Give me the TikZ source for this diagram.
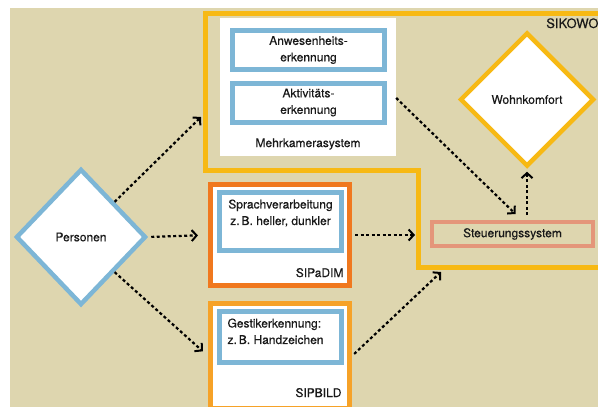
\documentclass[tikz,border=0pt]{standalone}
\usepackage{fontspec}
\setmainfont{TeX Gyre Heros}[FakeBold=0.35]
\usetikzlibrary{arrows.meta, positioning, shapes.geometric, calc}

\definecolor{sand}{RGB}{222,214,175}
\definecolor{gelb}{RGB}{247,185,20}
\definecolor{hellblau}{RGB}{125,182,214}
\definecolor{dunkelorange}{RGB}{240,120,30}
\definecolor{hellorange}{RGB}{246,162,40}
\definecolor{lachs}{RGB}{228,150,122}
\definecolor{schrift}{RGB}{25,25,25}

\begin{document}
\begin{tikzpicture}[x=1pt, y=-1pt,
    font=\fontsize{12}{16.5}\selectfont, text=schrift,
    raute/.style={diamond, draw, fill=white, line width=4.5pt, inner sep=0pt},
    innen/.style={rectangle, draw=hellblau, fill=white, line width=5pt, inner sep=0pt},
    projekt/.style={rectangle, fill=white, line width=5pt, inner sep=0pt},
    pfeil/.style={line width=2.2pt, dash pattern=on 3pt off 2.5pt,
        -{Straight Barb[length=5pt, width=11pt, line width=2pt]}}
]
    \useasboundingbox (0,0) rectangle (598,407);
    \fill[sand] (10,8) rectangle (598,407);

    % SIKOWO
    \draw[gelb, line width=5pt] (205,13) -- (606,13) -- (606,267) -- (418,267)
        -- (418,170) -- (205,170) -- cycle;
    \node[anchor=base east, font=\fontsize{13}{15}\selectfont] (sikowo) at (602,28) {SIKOWO};
    \coordinate (ende-oben) at (201,117);
    \coordinate (ende-mitte) at (415,235);
    \coordinate (ende-unten) at (441,272);

    % Mehrkamerasystem
    \node[fill=white, minimum width=176pt, minimum height=138pt, inner sep=0pt] (kamera) at (308,87) {};
    \node[innen, minimum width=152pt, minimum height=39pt, align=center] (anwesenheit) at (308.5,50) {Anwesenheits-\\erkennung};
    \node[innen, minimum width=152pt, minimum height=39pt, align=center] (aktivitaet) at (308.5,102.5) {Aktivitäts-\\erkennung};
    \node[above=3pt of kamera.south] (kameralabel) {Mehrkamerasystem};

    \node[raute, draw=gelb, minimum width=134pt, minimum height=134pt] (wohnkomfort) at (527,99.5) {Wohnkomfort};
    \node[rectangle, draw=lachs, line width=4pt, minimum width=161pt, minimum height=24pt] (steuerung) at (512.5,234) {Steuerungssystem};

    % Personen
    \node[raute, draw=hellblau, minimum width=130pt, minimum height=136pt] (personen) at (81,237) {Personen};

    % SIPaDIM
    \node[projekt, draw=dunkelorange, minimum width=139pt, minimum height=101pt] (sipadim) at (280,235) {};
    \node[innen, minimum width=122pt, minimum height=58pt] (sprache) at (280.5,221.5) {};
    \node[align=center, below=6pt of sprache.north] (sprachtext) {Sprachverarbeitung\\z.\,B. heller, dunkler};
    \node[anchor=base east] (sipadimlabel) at ([xshift=-5pt, yshift=11pt]sipadim.south east) {SIPaDIM};

    % SIPBILD
    \node[projekt, draw=hellorange, minimum width=139pt, minimum height=105pt] (sipbild) at (280,356) {};
    \node[innen, minimum width=122pt, minimum height=51pt] (gestik) at (280.5,337) {};
    \node[align=left, anchor=north west] (gestiktext) at ([xshift=7pt, yshift=-6pt]gestik.north west) {Gestikerkennung:\\z.\,B. Handzeichen};
    \node[anchor=base east] (sipbildlabel) at ([xshift=-7pt, yshift=14pt]sipbild.south east) {SIPBILD};

    % Pfeile
    \draw[pfeil] (personen.north east) -- (ende-oben);
    \draw[pfeil, shorten <=3pt, shorten >=10pt] (personen.east) -- (sipadim.west);
    \draw[pfeil, shorten >=7pt] (personen.south east) -- (sipbild.west);
    \draw[pfeil, shorten <=3pt] (sipadim.east) -- (ende-mitte);
    \draw[pfeil, shorten <=3pt] (sipbild.east) -- (ende-unten);
    \draw[pfeil] ([yshift=-11pt]kamera.east) -- ([xshift=3pt, yshift=6pt]steuerung.north);
    \draw[pfeil, shorten <=5pt, shorten >=3pt] (steuerung.north -| wohnkomfort.south) -- (wohnkomfort.south);
\end{tikzpicture}
\end{document}
